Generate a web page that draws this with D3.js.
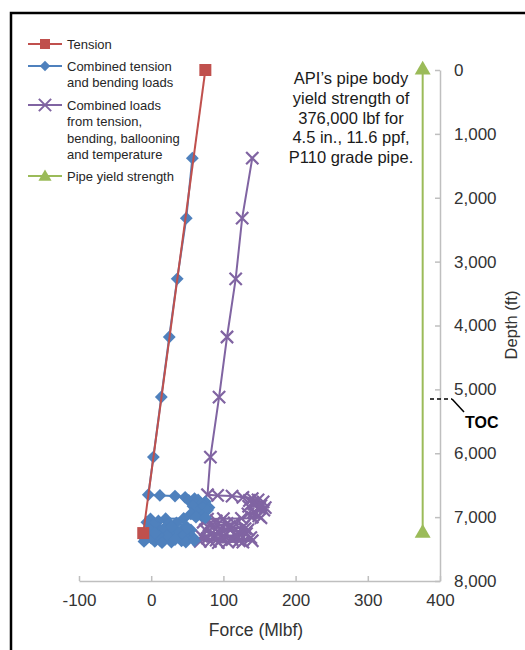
<!DOCTYPE html>
<html>
<head>
<meta charset="utf-8">
<script src="https://cdn.jsdelivr.net/npm/d3@7"></script>
<style>
body { margin: 0; background: #fff; }
text { font-family: "Liberation Sans", Arial, sans-serif; }
</style>
</head>
<body>
<script>
var width = 525;
var height = 650;
var svg = d3.select('body').append('svg')
  .attr('width', width)
  .attr('height', height);

// data (force in Mlbf, depth in ft)
var tensionForce = [75, -11];
var tensionDepth = [0, 7250];

var bendForce = [57, 48.6, 36, 25, 14, 3, -4,
  12, 33, 47, 60,
  65, 52, 75, 60, 68, 73, 58, 80, 72, 78, 64, 55, 70, 62, 75,
  45, 20, -1,
  -6, 10, 25, 8, 35, 48, 30, 15, -5, -8, 5, 20, 38, 52, 58, 42, 28, 12, 0, -10,
  3, 18, 40, 55, 45, 22, 33, 48, -2, 10, 28, 50, 15, 60, 5];
var bendDepth = [1380, 2320, 3270, 4180, 5120, 6060, 6650,
  6660, 6670, 6690, 6710,
  6730, 6740, 6760, 6780, 6800, 6820, 6830, 6850, 6860, 6890, 6920, 6950, 6980, 7000, 7010,
  7020, 7025, 7030,
  7080, 7060, 7100, 7150, 7090, 7140, 7200, 7250, 7300, 7350, 7380, 7330, 7300, 7260, 7320, 7370, 7390, 7360, 7330, 7380,
  7120, 7180, 7230, 7200, 7280, 7290, 7350, 7390, 7200, 7280, 7150, 7180, 7400, 7370, 7250];

var combForce = [140, 126, 117, 105, 94, 82, 78,
  92, 112, 127, 140,
  148, 136, 155, 141, 143, 152, 135, 158, 150, 156, 142, 134, 149, 140, 152,
  125, 100, 78,
  72, 90, 105, 86, 115, 128, 110, 94, 70, 66, 82, 98, 118, 132, 138, 122, 106, 90, 78, 68,
  80, 96, 121, 134, 124, 101, 112, 127, 75, 88, 108, 130, 93, 140, 84];
var combDepth = [1380, 2320, 3270, 4180, 5120, 6060, 6650,
  6660, 6670, 6690, 6710,
  6730, 6740, 6760, 6780, 6800, 6820, 6830, 6850, 6860, 6890, 6920, 6950, 6980, 7000, 7010,
  7020, 7025, 7030,
  7080, 7060, 7100, 7150, 7090, 7140, 7200, 7250, 7300, 7350, 7380, 7330, 7300, 7260, 7320, 7370, 7390, 7360, 7330, 7380,
  7120, 7180, 7230, 7200, 7280, 7290, 7350, 7390, 7200, 7280, 7150, 7180, 7400, 7370, 7250];

var yieldForce = [376, 376];
var yieldDepth = [0, 7250];

var xTicks = [-100, 0, 100, 200, 300, 400];
var yTicks = [0, 1000, 2000, 3000, 4000, 5000, 6000, 7000, 8000];
var tocDepth = 5150;

var legendLabels = [
  ["Tension"],
  ["Combined tension", "and bending loads"],
  ["Combined loads", "from tension,", "bending, ballooning", "and temperature"],
  ["Pipe yield strength"]
];
var noteLines = ["API\u2019s pipe body", "yield strength of", "376,000 lbf for", "4.5 in., 11.6 ppf,", "P110 grade pipe."];

var red = "#c0504d", blue = "#4f81bd", purple = "#8064a2", green = "#9bbb59";

var x = d3.scaleLinear().domain([-100, 400]).range([79, 440]);
var y = d3.scaleLinear().domain([0, 8000]).range([70, 581]);

// frame
svg.append("path")
  .attr("d", "M11,650 L11,13 L525,13")
  .attr("fill", "none")
  .attr("stroke", "#000")
  .attr("stroke-width", 2.5);

// axes
var xAxis = svg.append("g")
  .attr("transform", "translate(0," + y(8000) + ")")
  .call(d3.axisBottom(x).tickValues(xTicks).tickSize(0).tickPadding(13)
    .tickFormat(function(d) { return String(d); }));
xAxis.select(".domain").attr("stroke", "#bfbfbf").attr("stroke-width", 1.5);
xAxis.selectAll(".tick line").attr("y1", -5).attr("y2", 0).attr("stroke", "#bfbfbf").attr("stroke-width", 1.5);
xAxis.selectAll("text").attr("font-size", 17).attr("fill", "#333").attr("font-family", "Liberation Sans, Arial, sans-serif");

var yAxis = svg.append("g")
  .attr("transform", "translate(" + x(400) + ",0)")
  .call(d3.axisRight(y).tickValues(yTicks).tickSize(0).tickPadding(14).tickFormat(d3.format(",")));
yAxis.select(".domain").attr("stroke", "#bfbfbf").attr("stroke-width", 1.5);
yAxis.selectAll(".tick line").attr("x1", -5).attr("x2", 0).attr("stroke", "#bfbfbf").attr("stroke-width", 1.5);
yAxis.selectAll("text").attr("font-size", 17).attr("fill", "#333").attr("font-family", "Liberation Sans, Arial, sans-serif");

svg.append("text")
  .attr("x", 256).attr("y", 636)
  .attr("text-anchor", "middle")
  .attr("font-size", 17.5).attr("fill", "#333")
  .text("Force (Mlbf)");

svg.append("text")
  .attr("transform", "translate(517,325) rotate(-90)")
  .attr("text-anchor", "middle")
  .attr("font-size", 16.5).attr("fill", "#333")
  .text("Depth (ft)");

function pts(f, d) {
  return f.map(function(v, i) { return [x(v), y(d[i])]; });
}
var line = d3.line();

function drawLine(p, color) {
  svg.append("path")
    .attr("d", line(p))
    .attr("fill", "none")
    .attr("stroke", color)
    .attr("stroke-width", 2);
}

var pYield = pts(yieldForce, yieldDepth);
var pComb = pts(combForce, combDepth);
var pBend = pts(bendForce, bendDepth);
var pTen = pts(tensionForce, tensionDepth);

// yield strength
drawLine(pYield, green);
var tri = d3.symbol().type(d3.symbolTriangle).size(110);
svg.selectAll(".tri").data(pYield).enter().append("path")
  .attr("transform", function(d) { return "translate(" + d[0] + "," + d[1] + ")"; })
  .attr("d", tri).attr("fill", green);

// combined loads
drawLine(pComb, purple);
var cross = d3.symbol().type(d3.symbolX).size(100);
svg.selectAll(".xm").data(pComb).enter().append("path")
  .attr("transform", function(d) { return "translate(" + d[0] + "," + d[1] + ")"; })
  .attr("d", cross).attr("fill", "none").attr("stroke", purple).attr("stroke-width", 2.2);

// combined tension and bending
drawLine(pBend, blue);
var diamond = d3.symbol().type(d3.symbolDiamond2).size(105);
svg.selectAll(".dm").data(pBend).enter().append("path")
  .attr("transform", function(d) { return "translate(" + d[0] + "," + d[1] + ")"; })
  .attr("d", diamond).attr("fill", blue);

// tension
drawLine(pTen, red);
svg.selectAll(".sq").data(pTen).enter().append("rect")
  .attr("x", function(d) { return d[0] - 6; })
  .attr("y", function(d) { return d[1] - 6; })
  .attr("width", 12).attr("height", 12)
  .attr("fill", red);

// legend
var legColors = [red, blue, purple, green];
var legY = [44, 66, 105, 176];
legendLabels.forEach(function(lines, i) {
  var g = svg.append("g").attr("transform", "translate(0," + legY[i] + ")");
  g.append("line").attr("x1", 28).attr("x2", 62).attr("stroke", legColors[i]).attr("stroke-width", 2);
  if (i === 0) {
    g.append("rect").attr("x", 40).attr("y", -5).attr("width", 10).attr("height", 10).attr("fill", red);
  } else if (i === 1) {
    g.append("path").attr("transform", "translate(45,0)").attr("d", d3.symbol().type(d3.symbolDiamond2).size(70)()).attr("fill", blue);
  } else if (i === 2) {
    g.append("path").attr("transform", "translate(45,0)").attr("d", d3.symbol().type(d3.symbolX).size(100)())
      .attr("fill", "none").attr("stroke", purple).attr("stroke-width", 2);
  } else {
    g.append("path").attr("transform", "translate(45,1)").attr("d", d3.symbol().type(d3.symbolTriangle).size(75)()).attr("fill", green);
  }
  lines.forEach(function(t, j) {
    g.append("text").attr("x", 67).attr("y", j * 16.5 + 4.5)
      .attr("font-size", 13).attr("fill", "#262626").text(t);
  });
});

// note
noteLines.forEach(function(t, j) {
  svg.append("text").attr("x", 351).attr("y", 84 + j * 19.8)
    .attr("text-anchor", "middle").attr("font-size", 16.5).attr("fill", "#1a1a1a").text(t);
});

// TOC marker
var ty = y(tocDepth);
svg.append("line").attr("x1", 430).attr("x2", 452).attr("y1", ty).attr("y2", ty)
  .attr("stroke", "#000").attr("stroke-width", 1.5).attr("stroke-dasharray", "4,3");
svg.append("line").attr("x1", 452).attr("x2", 464).attr("y1", ty).attr("y2", ty + 13)
  .attr("stroke", "#000").attr("stroke-width", 1.5);
svg.append("text").attr("x", 465).attr("y", ty + 29)
  .attr("font-size", 16).attr("font-weight", "bold").attr("fill", "#000").text("TOC");
</script>
</body>
</html>
